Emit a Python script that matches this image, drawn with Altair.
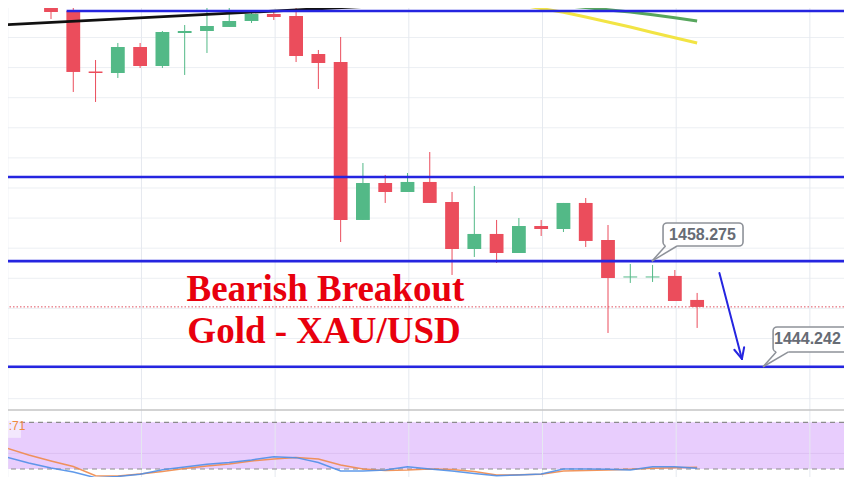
import altair as alt
import pandas as pd

# ---------------- data ----------------
candle_idx = list(range(30))
opens = [1493.65, 1491.52, 1483.48, 1483.28, 1486.74, 1484.21, 1488.60, 1488.86, 1489.40, 1490.19,
         1491.12, 1490.86, 1485.81, 1484.74, 1463.75, 1468.66, 1467.47, 1468.80, 1466.14, 1459.89,
         1461.89, 1459.36, 1462.95, 1462.55, 1466.01, 1461.09, 1456.11, 1456.11, 1456.31, 1453.12]
highs = [1494.31, 1493.25, 1485.01, 1487.27, 1487.27, 1488.86, 1489.66, 1493.12, 1492.45, 1491.65,
         1491.65, 1492.05, 1486.34, 1488.07, 1471.32, 1469.73, 1469.99, 1472.78, 1467.47, 1468.27,
         1463.75, 1464.01, 1463.75, 1466.01, 1466.67, 1463.08, 1457.90, 1457.77, 1457.10, 1454.05]
lows = [1490.46, 1480.76, 1479.43, 1482.62, 1483.95, 1483.95, 1483.02, 1485.94, 1489.40, 1489.93,
        1490.33, 1484.74, 1481.16, 1460.82, 1463.75, 1466.01, 1467.47, 1466.01, 1456.44, 1458.83,
        1458.03, 1459.36, 1461.62, 1462.15, 1460.16, 1448.73, 1455.38, 1455.51, 1452.98, 1449.40]
closes = [1491.39, 1483.42, 1483.28, 1486.74, 1484.21, 1488.73, 1488.86, 1489.53, 1490.19, 1491.12,
          1490.72, 1485.54, 1484.61, 1463.75, 1468.66, 1467.47, 1468.80, 1466.01, 1459.89, 1461.89,
          1459.36, 1462.95, 1462.55, 1466.01, 1460.96, 1456.04, 1456.24, 1456.24, 1452.98, 1452.19]

osc_idx = list(range(-2, 30))
stoch_k = [35.4, 27.7, 21.3, 16.1, 8.8, 10.4, 13.2, 19.1, 22.6, 26.0, 28.4, 31.6, 35.8, 34.6, 28.4, 17.4,
           17.4, 18.7, 23.0, 20.0, 17.4, 14.2, 11.4, 12.3, 13.6, 20.0, 20.0, 19.6, 18.7, 23.0, 23.0, 20.9]
stoch_d = [47.0, 38.0, 30.3, 23.2, 11.4, 11.0, 13.6, 16.8, 20.6, 23.9, 26.4, 30.3, 32.9, 34.8, 32.9, 25.1,
           20.0, 18.1, 18.7, 20.0, 19.4, 16.8, 12.3, 12.5, 13.2, 17.4, 18.1, 18.7, 19.6, 20.9, 21.7, 22.2]
osc_band = [20, 80]
osc_label = ":71"

ma_idx = list(range(19, 30))
ma_green = [1493.25, 1492.94, 1492.72, 1492.48, 1492.28, 1491.99, 1491.68, 1491.39, 1491.02, 1490.62, 1490.19]
ma_yellow = [1493.51, 1492.92, 1492.39, 1491.85, 1491.35, 1490.72, 1490.06, 1489.40, 1488.66, 1487.96, 1487.27]

trend_idx = [-3.0, 19.84]
trend_price = [1489.55, 1493.0]

level_prices = [1491.52, 1469.46, 1458.275, 1444.242]
level_start = [0.7, -3.0, -3.0, -3.0]
last_price = 1452.2

grid_prices = [1440, 1444, 1448, 1452, 1456, 1460, 1464, 1468, 1472, 1476, 1480, 1484, 1488]
grid_idx = [-1.94, 4.06, 10.06, 16.06, 22.06, 28.06, 34.06]
panel_split = 1438.5

callout_text = ["1458.275", "1444.242"]
callout_left = [27.47, 32.41]
callout_right = [31.06, 35.9]
callout_top = [1463.35, 1449.53]
callout_bottom = [1460.29, 1446.21]
callout_text_x = [29.24, 33.95]
callout_text_y = [1461.75, 1447.87]
callout_tip_x = [26.97, 31.96]
callout_tip_y = [1458.275, 1444.242]
callout_base_l = [27.58, 32.55]
callout_base_r = [28.10, 33.10]

arrow_from = (30.0, 1456.70)
arrow_tip = (31.01, 1445.28)
arrow_arm1 = (30.67, 1446.50)
arrow_arm2 = (31.11, 1446.84)

title_lines = ["Bearish Breakout", "Gold - XAU/USD"]
title_x = [6.08, 6.12]
title_y = [1453.02, 1447.36]

# ---------------- scales ----------------
W, H = 836, 469
XS = alt.Scale(domain=[-1.930, 35.592], nice=False, zero=False)
PS = alt.Scale(domain=[1429.59, 1491.92], nice=False, zero=False)
SS = alt.Scale(domain=[9.72, 612.3], nice=False, zero=False)

UP, DOWN = "#53b987", "#eb4d5c"
BLUE = "#2525e0"


def X(f):
    return alt.X(f, type="quantitative", scale=XS, axis=None)


def Yp(f):
    return alt.Y(f, type="quantitative", scale=PS, axis=None)


def Ys(f):
    return alt.Y(f, type="quantitative", scale=SS, axis=None)


candles = pd.DataFrame({"i": candle_idx, "open": opens, "high": highs, "low": lows, "close": closes})
candles["x0"] = candles["i"] - 0.31
candles["x1"] = candles["i"] + 0.31
up_c = candles[candles["close"] >= candles["open"]]
dn_c = candles[candles["close"] < candles["open"]]

layers = []

# stochastic panel background band
band = pd.DataFrame({"lo": [osc_band[0]], "hi": [osc_band[1]]})
layers.append(alt.Chart(band).mark_rect(color="#e8cdfd", clip=True).encode(
    x=alt.value(0), x2=alt.value(W), y=Ys("hi"), y2=alt.Y2("lo")))
layers.append(alt.Chart(pd.DataFrame({"v": [40]})).mark_rule(color="#dcc0f3", strokeWidth=1, clip=True).encode(
    y=Ys("v")))

# grid
layers.append(alt.Chart(pd.DataFrame({"g": grid_prices})).mark_rule(color="#eceff3", strokeWidth=1, clip=True).encode(
    y=Yp("g")))
layers.append(alt.Chart(pd.DataFrame({"g": grid_idx})).mark_rule(color="#e5e9ef", strokeWidth=1, clip=True).encode(
    x=X("g")))

# band dashed limits
layers.append(alt.Chart(pd.DataFrame({"v": osc_band})).mark_rule(color="#8c8c8c", strokeWidth=1.2,
                                                                 strokeDash=[5, 4], clip=True).encode(y=Ys("v")))
# panel separator
layers.append(alt.Chart(pd.DataFrame({"v": [panel_split]})).mark_rule(color="#c4c4c4", strokeWidth=1.6, clip=True).encode(
    y=Yp("v")))

# oscillator lines
osc = pd.DataFrame({"i": osc_idx, "k": stoch_k, "d": stoch_d})
layers.append(alt.Chart(osc).mark_line(color="#f0894a", strokeWidth=1.5, opacity=0.9, clip=True).encode(
    x=X("i"), y=Ys("d")))
layers.append(alt.Chart(osc).mark_line(color="#4f8fe8", strokeWidth=1.5, opacity=0.9, clip=True).encode(
    x=X("i"), y=Ys("k")))

# oscillator value label
lab = pd.DataFrame({"x0": [-2.4], "x1": [-1.35], "y0": [60.0], "y1": [82.0], "tx": [-1.90], "ty": [75.0],
                    "t": [osc_label]})
layers.append(alt.Chart(lab).mark_rect(color="#f3e8fd", clip=True).encode(
    x=X("x0"), x2=alt.X2("x1"), y=Ys("y0"), y2=alt.Y2("y1")))
layers.append(alt.Chart(lab).mark_text(color="#ef8a3c", fontSize=12, align="left", baseline="middle",
                                       font="Liberation Sans").encode(
    x=X("tx"), y=Ys("ty"), text="t:N"))

# candles
for df, col in ((up_c, UP), (dn_c, DOWN)):
    layers.append(alt.Chart(df).mark_rule(color=col, strokeWidth=1, clip=True).encode(
        x=X("i"), y=Yp("low"), y2=alt.Y2("high")))
    layers.append(alt.Chart(df).mark_rect(color=col, clip=True).encode(
        x=X("x0"), x2=alt.X2("x1"), y=Yp("open"), y2=alt.Y2("close")))

# moving averages
ma = pd.DataFrame({"i": ma_idx, "g": ma_green, "y": ma_yellow})
layers.append(alt.Chart(ma).mark_line(color="#f2e444", strokeWidth=3, clip=True).encode(x=X("i"), y=Yp("y")))
layers.append(alt.Chart(ma).mark_line(color="#57a65d", strokeWidth=3.2, clip=True).encode(x=X("i"), y=Yp("g")))

# trend line
tr = pd.DataFrame({"x0": [trend_idx[0]], "x1": [trend_idx[1]], "y0": [trend_price[0]], "y1": [trend_price[1]]})
layers.append(alt.Chart(tr).mark_rule(color="#111111", strokeWidth=2.8, clip=True).encode(
    x=X("x0"), x2=alt.X2("x1"), y=Yp("y0"), y2=alt.Y2("y1")))

# horizontal levels
lv = pd.DataFrame({"p": level_prices, "s": level_start, "e": [37.0] * len(level_prices)})
layers.append(alt.Chart(lv).mark_rule(color=BLUE, strokeWidth=2.6, clip=True).encode(
    x=X("s"), x2=alt.X2("e"), y=Yp("p")))

# last price dotted line
layers.append(alt.Chart(pd.DataFrame({"p": [last_price]})).mark_rule(
    color="#e0505e", strokeWidth=1, strokeDash=[1.5, 2], clip=True).encode(y=Yp("p")))

# title text
tt = pd.DataFrame({"x": title_x, "y": title_y, "t": title_lines})
layers.append(alt.Chart(tt).mark_text(color="#e8000d", fontSize=37, fontWeight="bold", font="Liberation Serif",
                                      align="left", baseline="alphabetic", clip=True).encode(
    x=X("x"), y=Yp("y"), text="t:N"))

# callouts
co = pd.DataFrame({"l": callout_left, "r": callout_right, "t": callout_top, "b": callout_bottom,
                   "tx": callout_text_x, "ty": callout_text_y, "txt": callout_text,
                   "px": callout_tip_x, "py": callout_tip_y, "bl": callout_base_l, "br": callout_base_r})
layers.append(alt.Chart(co).mark_rect(fill="white", stroke="#8e9299", strokeWidth=1.6, cornerRadius=4,
                                      clip=True).encode(
    x=X("l"), x2=alt.X2("r"), y=Yp("b"), y2=alt.Y2("t")))
layers.append(alt.Chart(co).mark_rule(color="white", strokeWidth=2.5, clip=True).encode(
    x=X("bl"), x2=alt.X2("br"), y=Yp("b")))
layers.append(alt.Chart(co).mark_rule(color="#8e9299", strokeWidth=1.5, clip=True).encode(
    x=X("px"), x2=alt.X2("bl"), y=Yp("py"), y2=alt.Y2("b")))
layers.append(alt.Chart(co).mark_rule(color="#8e9299", strokeWidth=1.5, clip=True).encode(
    x=X("px"), x2=alt.X2("br"), y=Yp("py"), y2=alt.Y2("b")))
layers.append(alt.Chart(co).mark_text(color="#676c75", fontSize=16, fontWeight="bold", font="Liberation Sans",
                                      align="center", baseline="middle", clip=True).encode(
    x=X("tx"), y=Yp("ty"), text="txt:N"))

# arrow
ar = pd.DataFrame({"x0": [arrow_from[0], arrow_arm1[0], arrow_arm2[0]],
                   "y0": [arrow_from[1], arrow_arm1[1], arrow_arm2[1]],
                   "x1": [arrow_tip[0]] * 3, "y1": [arrow_tip[1]] * 3})
layers.append(alt.Chart(ar).mark_rule(color=BLUE, strokeWidth=2, strokeCap="round", clip=True).encode(
    x=X("x0"), x2=alt.X2("x1"), y=Yp("y0"), y2=alt.Y2("y1")))

chart = alt.layer(*layers).resolve_scale(y="independent").properties(
    width=W, height=H, padding=0,
    autosize=alt.AutoSizeParams(type="fit", contains="padding"),
    background="white",
).configure_view(stroke=None)

chart.save("out.html", embed_options={"renderer": "svg", "actions": False})
